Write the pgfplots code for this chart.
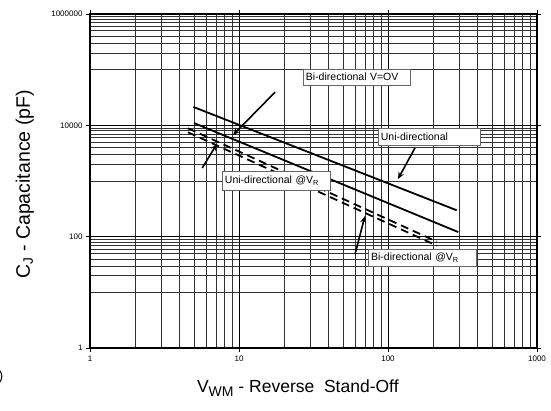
\documentclass[border=0pt]{standalone}
\usepackage{fontspec}
\setmainfont{Liberation Sans}
\usepackage{pgfplots}
\pgfplotsset{compat=1.18}
\usetikzlibrary{arrows.meta}
\begin{document}
\begin{tikzpicture}[x=1pt,y=1pt]
\useasboundingbox (0,0) rectangle (551,410);
\begin{axis}[
  at={(90pt,62pt)}, anchor=south west,
  scale only axis, width=447pt, height=334pt,
  xmode=log, ymode=log,
  xmin=1, xmax=1000, ymin=1, ymax=1000000,
  xtick={1,10,100,1000},
  xticklabels={1,10,100,1000},
  ytick={1,100,10000,1000000},
  yticklabels={1,100,10000,1000000},
  minor xtick={2,3,4,5,6,7,8,9,20,30,40,50,60,70,80,90,200,300,400,500,600,700,800,900},
  minor ytick={10,20,30,40,50,60,70,80,90,1000,2000,3000,4000,5000,6000,7000,8000,9000,100000,200000,300000,400000,500000,600000,700000,800000,900000},
  grid=both,
  major grid style={black, line width=0.6pt},
  minor grid style={black!80, line width=0.55pt},
  axis line style={line width=1.8pt},
  tick align=outside, major tick length=4pt, minor tick length=0pt,
  tick style={black, line width=0.5pt},
  x tick label style={font=\fontsize{8}{9}\selectfont, yshift=0pt},
  y tick label style={font=\fontsize{8}{9}\selectfont},
  xlabel={V\raisebox{-0.45ex}{\fontsize{14}{15}\selectfont WM} - Reverse\; Stand-Off},
  ylabel={C\textsubscript{J} - Capacitance (pF)},
  xlabel style={font=\fontsize{17.5}{19}\selectfont, at={(axis description cs:0.465,-0.12)}, anchor=center},
  ylabel style={font=\fontsize{19.5}{21}\selectfont, at={(axis description cs:-0.146,0.49)}, anchor=center, rotate=0},
  clip mode=individual,
]
% Bi-directional V=0V (top solid)
\addplot[black, line width=1.8pt] coordinates {(4.94,21400) (289,298)};
% Uni-directional (middle solid)
\addplot[black, line width=1.8pt] coordinates {(4.99,11000) (296,121)};
% dashed pair
\addplot[black, line width=1.8pt, dash pattern=on 8pt off 5pt] coordinates {(4.55,8840) (213,81.3)};
\addplot[black, line width=1.8pt, dash pattern=on 8pt off 5pt] coordinates {(4.55,7490) (213,68.9)};

\tikzset{lbl/.style={draw=black!60, fill=white, font=\fontsize{10.5}{11}\selectfont, inner xsep=3pt, inner ysep=2pt, anchor=center, line width=0.6pt, align=left},
         arr/.style={line width=1.6pt, -{Stealth[length=7pt,width=6pt]}}}
\draw[arr] (rel axis cs:0.414,0.766) -- (rel axis cs:0.320,0.638);
\draw[arr] (rel axis cs:0.727,0.599) -- (rel axis cs:0.689,0.506);
\draw[arr] (rel axis cs:0.251,0.539) -- (rel axis cs:0.284,0.611);
\draw[arr] (rel axis cs:0.593,0.281) -- (rel axis cs:0.615,0.395);
\node[lbl, text width=101pt, minimum height=16pt] at (rel axis cs:0.596,0.811) {Bi-directional V=OV};
\node[lbl, text width=96pt, minimum height=17pt] at (rel axis cs:0.758,0.633) {Uni-directional};
\node[lbl, text width=102pt, minimum height=19pt] at (rel axis cs:0.416,0.501) {Uni-directional @V\textsubscript{R}};
\node[lbl, text width=102pt, minimum height=17pt] at (rel axis cs:0.743,0.271) {Bi-directional @V\textsubscript{R}};
\end{axis}
\node[anchor=center, font=\fontsize{14}{16}\selectfont] at (1,33) {)};
\end{tikzpicture}
\end{document}
